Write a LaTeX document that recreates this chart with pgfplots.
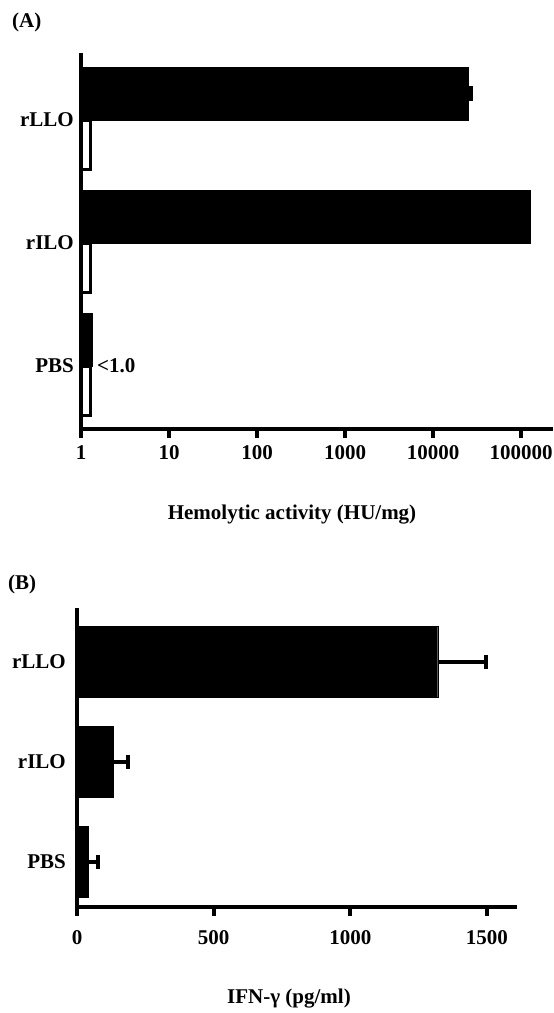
\documentclass[border=0pt]{standalone}
\usepackage{fontspec}
\setmainfont{Liberation Serif}
\usepackage{pgfplots}
\pgfplotsset{compat=1.18}
\pgfplotsset{
  myaxis/.style={
    scale only axis,
    axis lines=left,
    axis line style={line width=4pt,-},
    every outer x axis line/.append style={line width=4pt,-},
    every outer y axis line/.append style={line width=4pt,-},
    every inner x axis line/.append style={line width=4pt,-},
    every inner y axis line/.append style={line width=4pt,-},
    axis on top,
    clip=false,
    tick align=outside,
    major tick length=9pt,
    xtick style={line width=4pt,black},
    ytick style={draw=none},
    ytick={0,1,2},
    yticklabels={PBS,rILO,rLLO},
    tick label style={font=\fontsize{21}{25}\selectfont\bfseries},
  }
}
\begin{document}
\fontsize{21}{25}\selectfont\bfseries
\begin{tikzpicture}[x=1pt,y=1pt]
\useasboundingbox (0,0) rectangle (554,-1013);
% Panel A
\begin{axis}[myaxis,
  at={(81pt,-429pt)}, anchor=south west,
  width=472pt, height=376pt,
  xmode=log, xmin=1, xmax=2.3e5,
  ymin=-0.512, ymax=2.545,
  xtick={1,10,100,1000,10000,100000},
  xticklabels={1,10,100,1000,10000,100000},
  xminorticks=false,
  yticklabel style={xshift=9pt},
  log origin=infty,
]
% black bars (upper bar of each group)
\addplot[xbar, bar width=0.43, bar shift=0, fill=black, draw=black,
  error bars/.cd, x dir=plus, x explicit, error mark=|,
  error bar style={line width=4pt, black},
  error mark options={black, line width=4pt, mark size=7.5pt}]
  coordinates {(1.33,0.215) (126000,1.215) (25000,2.215) +- (2000,0)};
% white bars (lower bar of each group)
\addplot[xbar, bar width=0.40, bar shift=0, fill=white, draw=black, line width=3pt]
  coordinates {(1.28,-0.2) (1.28,0.8) (1.28,1.8)};
\node[anchor=west, inner sep=0pt] at (axis cs:1.52,0) {<1.0};
\end{axis}
\node[anchor=west, inner sep=0pt] at (12,-22) {(A)};
\node[anchor=base, inner sep=0pt] at (292,-519) {Hemolytic activity (HU/mg)};
% Panel B
\begin{axis}[myaxis,
  at={(77pt,-907pt)}, anchor=south west,
  width=440pt, height=299pt,
  xmin=0, xmax=1610,
  ymin=-0.45, ymax=2.54,
  xtick={0,500,1000,1500},
  xticklabels={0,500,1000,1500},
  yticklabel style={xshift=5pt},
  xticklabel style={yshift=-7pt},
]
\addplot[xbar, bar width=0.71, bar shift=0, fill=black, draw=black,
  error bars/.cd, x dir=plus, x explicit, error mark=|,
  error bar style={line width=4pt, black},
  error mark options={black, line width=4pt, mark size=7pt}]
  coordinates {(40,0) +- (37,0) (132,1) +- (55,0) (1320,2) +- (176,0)};
\end{axis}
\node[anchor=west, inner sep=0pt] at (8,-584) {(B)};
\node[anchor=base, inner sep=0pt] at (289,-1003) {IFN-γ (pg/ml)};
\end{tikzpicture}
\end{document}
